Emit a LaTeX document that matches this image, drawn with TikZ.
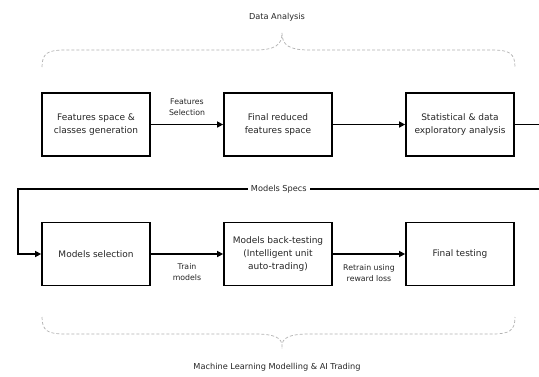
\documentclass[tikz,border=0pt]{standalone}
\usepackage{fontspec}
\setmainfont{DejaVu Sans}
\usetikzlibrary{arrows.meta}
\begin{document}
\begin{tikzpicture}[x=1pt,y=-1pt,
  stage/.style={draw=black, line width=1.7pt, minimum width=108pt, minimum height=63pt,
    align=center, font=\fontsize{9}{12.7}\selectfont, text=black!85, inner sep=2pt},
  conn/.style={line width=1.4pt, -{Triangle[length=6pt,width=6pt]}},
  lbl/.style={font=\fontsize{7.8}{10.5}\selectfont, align=center, text=black!85, inner sep=1pt},
  brace/.style={draw=black!30, line width=0.7pt, dash pattern=on 3pt off 2pt},
  title/.style={font=\fontsize{8.2}{9}\selectfont, text=black!85}]
\clip (0,0) rectangle (539,376);
\fill[white] (0,0) rectangle (539,376);

% stages of the data analysis row
\node[stage] (f1) at (96,124.5) {Features space \&\\classes generation};
\node[stage] (f2) at (278,124.5) {Final reduced\\features space};
\node[stage] (f3) at (460,124.5) {Statistical \& data\\exploratory analysis};

% stages of the modelling row
\node[stage] (m1) at (96,254) {Models selection};
\node[stage] (m2) at (278,254) {Models back-testing\\(Intelligent unit\\auto-trading)};
\node[stage] (m3) at (460,254) {Final testing};

% group titles
\node[title] (tA) at (277,17) {Data Analysis};
\node[title] (tB) at (277,367) {Machine Learning Modelling \& AI Trading};

% connectors
\draw[conn] (f1.east) -- (f2.west);
\node[lbl] (lsel) at (187,107) {Features\\Selection};
\draw[conn] (f2.east) -- (f3.west);

\coordinate (r1) at (545,124.5);
\coordinate (r2) at (545,189);
\coordinate (l1) at (18,189);
\coordinate (l2) at (18,254);
\draw[conn] (f3.east) -- (r1) -- (r2) -- node[pos=0.505, fill=white, title, inner sep=3pt] (spec) {Models Specs} (l1) -- (l2) -- (m1.west);

\draw[conn] (m1.east) -- (m2.west);
\node[lbl] (ltrain) at (187,272) {Train\\models};
\draw[conn] (m2.east) -- (m3.west);
\node[lbl] (lretrain) at (369,273) {Retrain using\\reward loss};

% dashed braces
\draw[brace] (42,67) .. controls (42,53) and (48,50) .. (65,50) -- (255,50)
  .. controls (275,50) and (282,45) .. (282,33)
  .. controls (282,45) and (289,50) .. (309,50) -- (492,50)
  .. controls (509,50) and (515,53) .. (515,67);
\draw[brace] (42,317) .. controls (42,331) and (48,334) .. (65,334) -- (255,334)
  .. controls (275,334) and (282,338) .. (282,346)
  .. controls (282,338) and (289,334) .. (309,334) -- (492,334)
  .. controls (509,334) and (515,331) .. (515,317);
\end{tikzpicture}
\end{document}
